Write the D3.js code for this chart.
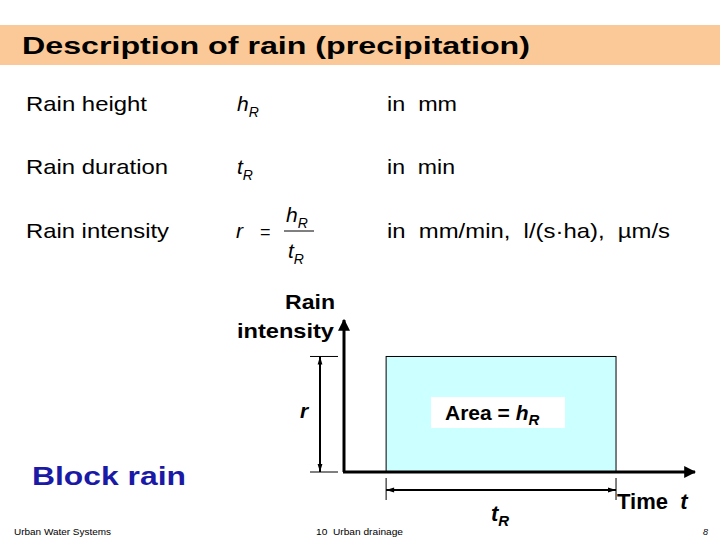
<!DOCTYPE html>
<html><head><meta charset="utf-8">
<script src="https://cdn.jsdelivr.net/npm/d3@7"></script>
<style>body{margin:0;background:#fff}svg{display:block}text{font-family:Arial,"Liberation Sans",sans-serif;white-space:pre}</style>
</head><body>
<script>
const labels = ["Rain height","Rain duration","Rain intensity"];
const units = ["in  mm","in  min","in  mm/min,  l/(s·ha),  µm/s"];
const blockStart = [1.2];
const blockEnd = [7.75];
const intensity = [0.76];

const svg = d3.select("body").append("svg").attr("width",720).attr("height",540);
const T=(x,y,s,txt,len)=>{const t=svg.append("text").attr("x",x).attr("y",y).attr("font-size",s).text(txt);
  if(len) t.attr("textLength",len).attr("lengthAdjust","spacingAndGlyphs"); return t;};
svg.append("rect").attr("x",0).attr("y",25).attr("width",720).attr("height",40).attr("fill","#fbc997");
T(22,54,23,"Description of rain (precipitation)",508).attr("font-weight","bold");

const rowsY=[111,174,238];
const lw=[121,142,143], uw=[70,68,283];
labels.forEach((l,i)=>{
  T(26,rowsY[i],21,l,lw[i]);
  T(387,rowsY[i],21,units[i],uw[i]);
});
const sym=(x,y,m)=>{const t=svg.append("text").attr("x",x).attr("y",y).attr("font-size",21).attr("font-style","italic");
 t.append("tspan").text(m);t.append("tspan").attr("font-size",14).attr("dy",6).text("R");};
sym(237,111,"h");sym(237,174,"t");
svg.append("text").attr("x",236).attr("y",238).attr("font-size",21).attr("font-style","italic").text("r");
svg.append("text").attr("x",260).attr("y",238).attr("font-size",18).text("=");
sym(286,222,"h");sym(288,258,"t");
svg.append("line").attr("x1",284).attr("x2",314).attr("y1",231).attr("y2",231).attr("stroke","#000");

const x=d3.scaleLinear().domain([0,10]).range([344,695]);
const y=d3.scaleLinear().domain([0,1]).range([472,320]);
const defs=svg.append("defs");
defs.append("marker").attr("id","ah").attr("viewBox","0 0 10 10").attr("refX",9).attr("refY",5).attr("markerWidth",4).attr("markerHeight",4).attr("orient","auto")
 .append("path").attr("d","M0,0L10,5L0,10z");
defs.append("marker").attr("id","sa").attr("viewBox","0 0 10 10").attr("refX",10).attr("refY",5).attr("markerWidth",5).attr("markerHeight",4).attr("orient","auto-start-reverse")
 .append("path").attr("d","M0,2L10,5L0,8z");

svg.append("rect").attr("x",x(blockStart[0])).attr("y",y(intensity[0])).attr("width",x(blockEnd[0])-x(blockStart[0])).attr("height",y(0)-y(intensity[0])).attr("fill","#ccffff").attr("stroke","#000").attr("stroke-width",1);
svg.append("line").attr("x1",x(0)).attr("y1",y(0)).attr("x2",x(0)).attr("y2",y(1)).attr("stroke","#000").attr("stroke-width",3).attr("marker-end","url(#ah)");
svg.append("line").attr("x1",x(0)-1).attr("y1",y(0)).attr("x2",x(10)).attr("y2",y(0)).attr("stroke","#000").attr("stroke-width",3).attr("marker-end","url(#ah)");

[y(intensity[0]),y(0)].forEach(v=>svg.append("line").attr("x1",310).attr("x2",338).attr("y1",v).attr("y2",v).attr("stroke","#000"));
svg.append("line").attr("x1",320).attr("x2",320).attr("y1",y(intensity[0])).attr("y2",y(0)).attr("stroke","#000").attr("stroke-width",2).attr("marker-start","url(#sa)").attr("marker-end","url(#sa)");
svg.append("text").attr("x",300).attr("y",418).attr("font-size",21).attr("font-weight","bold").attr("font-style","italic").text("r");
[x(blockStart[0]),x(blockEnd[0])].forEach(v=>svg.append("line").attr("x1",v).attr("x2",v).attr("y1",478).attr("y2",500).attr("stroke","#000"));
svg.append("line").attr("x1",x(blockStart[0])).attr("x2",x(blockEnd[0])).attr("y1",490).attr("y2",490).attr("stroke","#000").attr("stroke-width",2).attr("marker-start","url(#sa)").attr("marker-end","url(#sa)");
const tr=svg.append("text").attr("x",491).attr("y",521).attr("font-size",22).attr("font-weight","bold").attr("font-style","italic");
tr.append("tspan").text("t");tr.append("tspan").attr("font-size",15).attr("dy",5).text("R");

svg.append("rect").attr("x",431).attr("y",397).attr("width",134).attr("height",31).attr("fill","#fff");
const ar=svg.append("text").attr("x",445).attr("y",420).attr("font-size",21).attr("font-weight","bold");
ar.append("tspan").text("Area = ");ar.append("tspan").attr("font-style","italic").text("h");ar.append("tspan").attr("font-style","italic").attr("font-size",15).attr("dy",5).text("R");

T(285,309,21,"Rain",50).attr("font-weight","bold");
T(237,338,21,"intensity",97).attr("font-weight","bold");
const tm=svg.append("text").attr("x",617).attr("y",509).attr("font-size",22).attr("font-weight","bold");
tm.append("tspan").text("Time  ");tm.append("tspan").attr("font-style","italic").text("t");

T(32,485,26,"Block rain",154).attr("font-weight","bold").attr("fill","#1a1aa6");
T(14,535,9,"Urban Water Systems",97);
T(316,535,9,"10  Urban drainage",87);
svg.append("text").attr("x",708).attr("y",535).attr("font-size",9).attr("font-style","italic").attr("text-anchor","end").text("8");
</script></body></html>
